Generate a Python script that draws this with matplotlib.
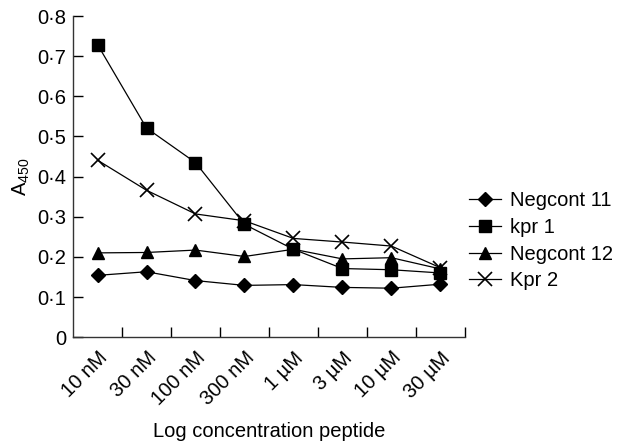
import numpy as np
from matplotlib import pyplot as plt

plt.rcParams['font.family'] = ['Liberation Sans', 'DejaVu Sans']
plt.rcParams['mathtext.fontset'] = 'custom'
plt.rcParams['mathtext.rm'] = 'Liberation Sans'

concentrations = ['10 nM', '30 nM', '100 nM', '300 nM', '1 \u00b5M', '3 \u00b5M', '10 \u00b5M', '30 \u00b5M']
negcont11 = [0.154, 0.163, 0.141, 0.129, 0.131, 0.124, 0.122, 0.132]
kpr1 = [0.729, 0.521, 0.435, 0.281, 0.219, 0.171, 0.168, 0.160]
negcont12 = [0.210, 0.211, 0.217, 0.201, 0.219, 0.195, 0.198, 0.170]
kpr2 = [0.441, 0.366, 0.307, 0.290, 0.246, 0.237, 0.227, 0.173]
yticks = [0, 0.1, 0.2, 0.3, 0.4, 0.5, 0.6, 0.7, 0.8]
ytick_labels = ['0', '0\u00b71', '0\u00b72', '0\u00b73', '0\u00b74', '0\u00b75', '0\u00b76', '0\u00b77', '0\u00b78']

fs = 14.5

fig = plt.figure(figsize=(6.19, 4.46), dpi=100)
ax = fig.add_axes([0.118, 0.244, 0.633, 0.72])

x = np.arange(len(concentrations))
ax.plot(x, negcont11, color='black', lw=0.9, marker='D', ms=7, label='Negcont 11')
ax.plot(x, kpr1, color='black', lw=0.9, marker='s', ms=8.5, label='kpr 1')
ax.plot(x, negcont12, color='black', lw=0.9, marker='^', ms=8.5, label='Negcont 12')
ax.plot(x, kpr2, color='black', lw=0.9, marker='x', ms=10, mew=1.2, label='Kpr 2')

ax.set_xlim(-0.5, len(concentrations) - 0.5)
ax.set_ylim(0, 0.8)
ax.set_yticks(yticks)
ax.set_yticklabels(ytick_labels, fontsize=fs)
ax.set_xticks(x)
ax.set_xticklabels(concentrations, fontsize=fs, rotation=45, ha='right', rotation_mode='anchor')
ax.tick_params(axis='x', which='major', length=0, pad=8)
ax.set_xticks(np.arange(0.5, len(concentrations)), minor=True)
ax.tick_params(axis='x', which='minor', direction='in', length=7, width=1)
ax.tick_params(axis='y', direction='in', length=7, width=1, pad=5)

for side in ['top', 'right']:
    ax.spines[side].set_visible(False)
for side in ['left', 'bottom']:
    ax.spines[side].set_linewidth(1)
    ax.spines[side].set_color('#333333')

ax.set_ylabel(r'$\mathregular{A_{450}}$', fontsize=fs, labelpad=4)
ax.set_xlabel('Log concentration peptide', fontsize=fs, labelpad=9)

ax.legend(loc='center left', bbox_to_anchor=(1.0, 0.30), frameon=False, fontsize=fs,
          handlelength=1.6, handletextpad=0.45, labelspacing=0.38,
          borderaxespad=0.0, borderpad=0.2)

plt.savefig('out.png', dpi=100)
